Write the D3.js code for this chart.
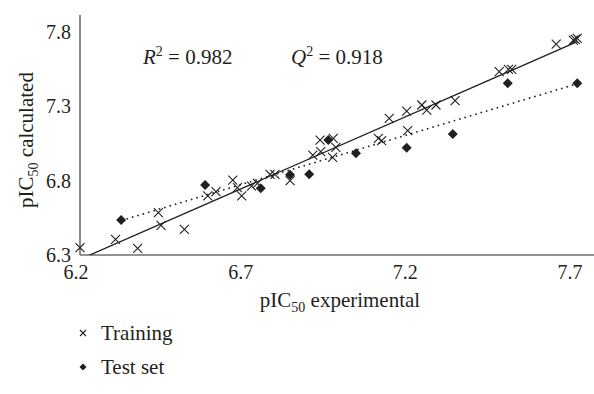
<!DOCTYPE html>
<html>
<head>
<meta charset="utf-8">
<script src="https://cdn.jsdelivr.net/npm/d3@7"></script>
<style>
  body { margin: 0; background: #fff; }
  svg text { font-family: "Liberation Serif", "DejaVu Serif", serif; fill: #231f20; }
</style>
</head>
<body>
<div id="container"></div>
<script>
// training set (experimental, calculated)
const trainX = [6.206, 6.314, 6.381, 6.444, 6.452, 6.523, 6.594, 6.619, 6.670, 6.684,
                6.697, 6.727, 6.745, 6.783, 6.798, 6.844, 6.913, 6.937, 6.935, 6.975,
                6.983, 6.973, 7.112, 7.122, 7.145, 7.201, 7.198, 7.244, 7.259, 7.287,
                7.345, 7.479, 7.507, 7.517, 7.652, 7.704, 7.716, 7.710];
const trainY = [6.350, 6.405, 6.345, 6.585, 6.500, 6.473, 6.697, 6.726, 6.804, 6.753,
                6.697, 6.764, 6.782, 6.843, 6.843, 6.800, 6.972, 6.995, 7.073, 7.085,
                7.024, 6.957, 7.085, 7.069, 7.219, 7.136, 7.268, 7.309, 7.275, 7.309,
                7.338, 7.533, 7.549, 7.549, 7.719, 7.746, 7.757, 7.750];
// test set
const testX = [6.331, 6.586, 6.755, 6.844, 6.902, 6.960, 7.044, 7.198, 7.338, 7.505, 7.716];
const testY = [6.535, 6.771, 6.749, 6.840, 6.843, 7.073, 6.984, 7.022, 7.114, 7.455, 7.455];

// trendlines: [slope, intercept]
const trainFit = [0.970, 0.251];
const testFit = [0.664, 2.328];

const xTicks = [6.2, 6.7, 7.2, 7.7];
const yTicks = [6.3, 6.8, 7.3, 7.8];

const W = 594, H = 394;
const plot = {left: 80, right: 594, top: 15, bottom: 255};

const x = d3.scaleLinear().domain([6.2, 7.7]).range([78, 572]);
const y = d3.scaleLinear().domain([6.3, 7.8]).range([255, 32]);

const svg = d3.select("#container").append("svg")
    .attr("width", W).attr("height", H);

svg.append("defs").append("clipPath").attr("id", "clip")
    .append("rect")
    .attr("x", plot.left).attr("y", plot.top)
    .attr("width", plot.right - plot.left).attr("height", plot.bottom - plot.top);

// axes
const axisColor = "#6d6e71";
svg.append("line")
    .attr("x1", plot.left).attr("x2", plot.left)
    .attr("y1", plot.top).attr("y2", plot.bottom)
    .attr("stroke", axisColor).attr("stroke-width", 1.6);
svg.append("line")
    .attr("x1", plot.left).attr("x2", plot.right)
    .attr("y1", plot.bottom).attr("y2", plot.bottom)
    .attr("stroke", axisColor).attr("stroke-width", 1.6);

svg.append("g").selectAll("text")
    .data(xTicks).join("text")
    .attr("x", d => x(d) - 2)
    .attr("y", 279)
    .attr("text-anchor", "middle")
    .attr("font-size", 20)
    .text(d => d.toFixed(1));

svg.append("g").selectAll("text")
    .data(yTicks).join("text")
    .attr("x", 71)
    .attr("y", d => y(d) + 7)
    .attr("text-anchor", "end")
    .attr("font-size", 20)
    .text(d => d.toFixed(1));

// axis titles
const xt = svg.append("text")
    .attr("x", 340).attr("y", 307)
    .attr("text-anchor", "middle")
    .attr("font-size", 21);
xt.append("tspan").text("pIC");
xt.append("tspan").attr("font-size", 14).attr("dy", 5).text("50");
xt.append("tspan").attr("dy", -5).text(" experimental");

const yt = svg.append("text")
    .attr("transform", "translate(33,140) rotate(-90)")
    .attr("text-anchor", "middle")
    .attr("font-size", 21);
yt.append("tspan").text("pIC");
yt.append("tspan").attr("font-size", 14).attr("dy", 5).text("50");
yt.append("tspan").attr("dy", -5).text(" calculated");

// statistics
const stats = [["R", "0.982", 143], ["Q", "0.918", 291]];
stats.forEach(([sym, val, px]) => {
    const t = svg.append("text").attr("x", px).attr("y", 64).attr("font-size", 21);
    t.append("tspan").attr("font-style", "italic").text(sym);
    t.append("tspan").attr("font-size", 14).attr("dy", -8).text("2");
    t.append("tspan").attr("dy", 8).text(" = " + val);
});

// trendlines
const g = svg.append("g").attr("clip-path", "url(#clip)");
const fitLine = (fit, xs) => {
    const x0 = d3.min(xs), x1 = d3.max(xs);
    return [[x0, fit[0] * x0 + fit[1]], [x1, fit[0] * x1 + fit[1]]];
};
const line = d3.line().x(d => x(d[0])).y(d => y(d[1]));
g.append("path")
    .attr("d", line(fitLine(trainFit, trainX)))
    .attr("stroke", "#231f20").attr("stroke-width", 1.3).attr("fill", "none");
g.append("path")
    .attr("d", line(fitLine(testFit, testX)))
    .attr("stroke", "#231f20").attr("stroke-width", 1.6).attr("fill", "none")
    .attr("stroke-dasharray", "1.6,4");

// markers
const cross = (sel, s) => sel.append("path")
    .attr("d", `M${-s},${-s}L${s},${s}M${-s},${s}L${s},${-s}`)
    .attr("stroke", "#231f20").attr("stroke-width", 1.1).attr("fill", "none");
const diamond = (sel, s) => sel.append("path")
    .attr("d", `M0,${-s}L${s},0L0,${s}L${-s},0Z`)
    .attr("fill", "#231f20");

const train = trainX.map((v, i) => [v, trainY[i]]);
const test = testX.map((v, i) => [v, testY[i]]);

svg.append("g").selectAll("g")
    .data(test).join("g")
    .attr("transform", d => `translate(${x(d[0])},${y(d[1])})`)
    .each(function () { diamond(d3.select(this), 5); });

svg.append("g").selectAll("g")
    .data(train).join("g")
    .attr("transform", d => `translate(${x(d[0])},${y(d[1])})`)
    .each(function () { cross(d3.select(this), 4.5); });

// legend
const legend = [["Training", "cross"], ["Test set", "diamond"]];
legend.forEach(([name, kind], i) => {
    const ly = 333 + i * 34;
    const m = svg.append("g").attr("transform", `translate(83,${ly})`);
    if (kind === "cross") cross(m, 3); else diamond(m, 3.5);
    svg.append("text").attr("x", 101).attr("y", ly + 7)
        .attr("font-size", 21).text(name);
});
</script>
</body>
</html>
